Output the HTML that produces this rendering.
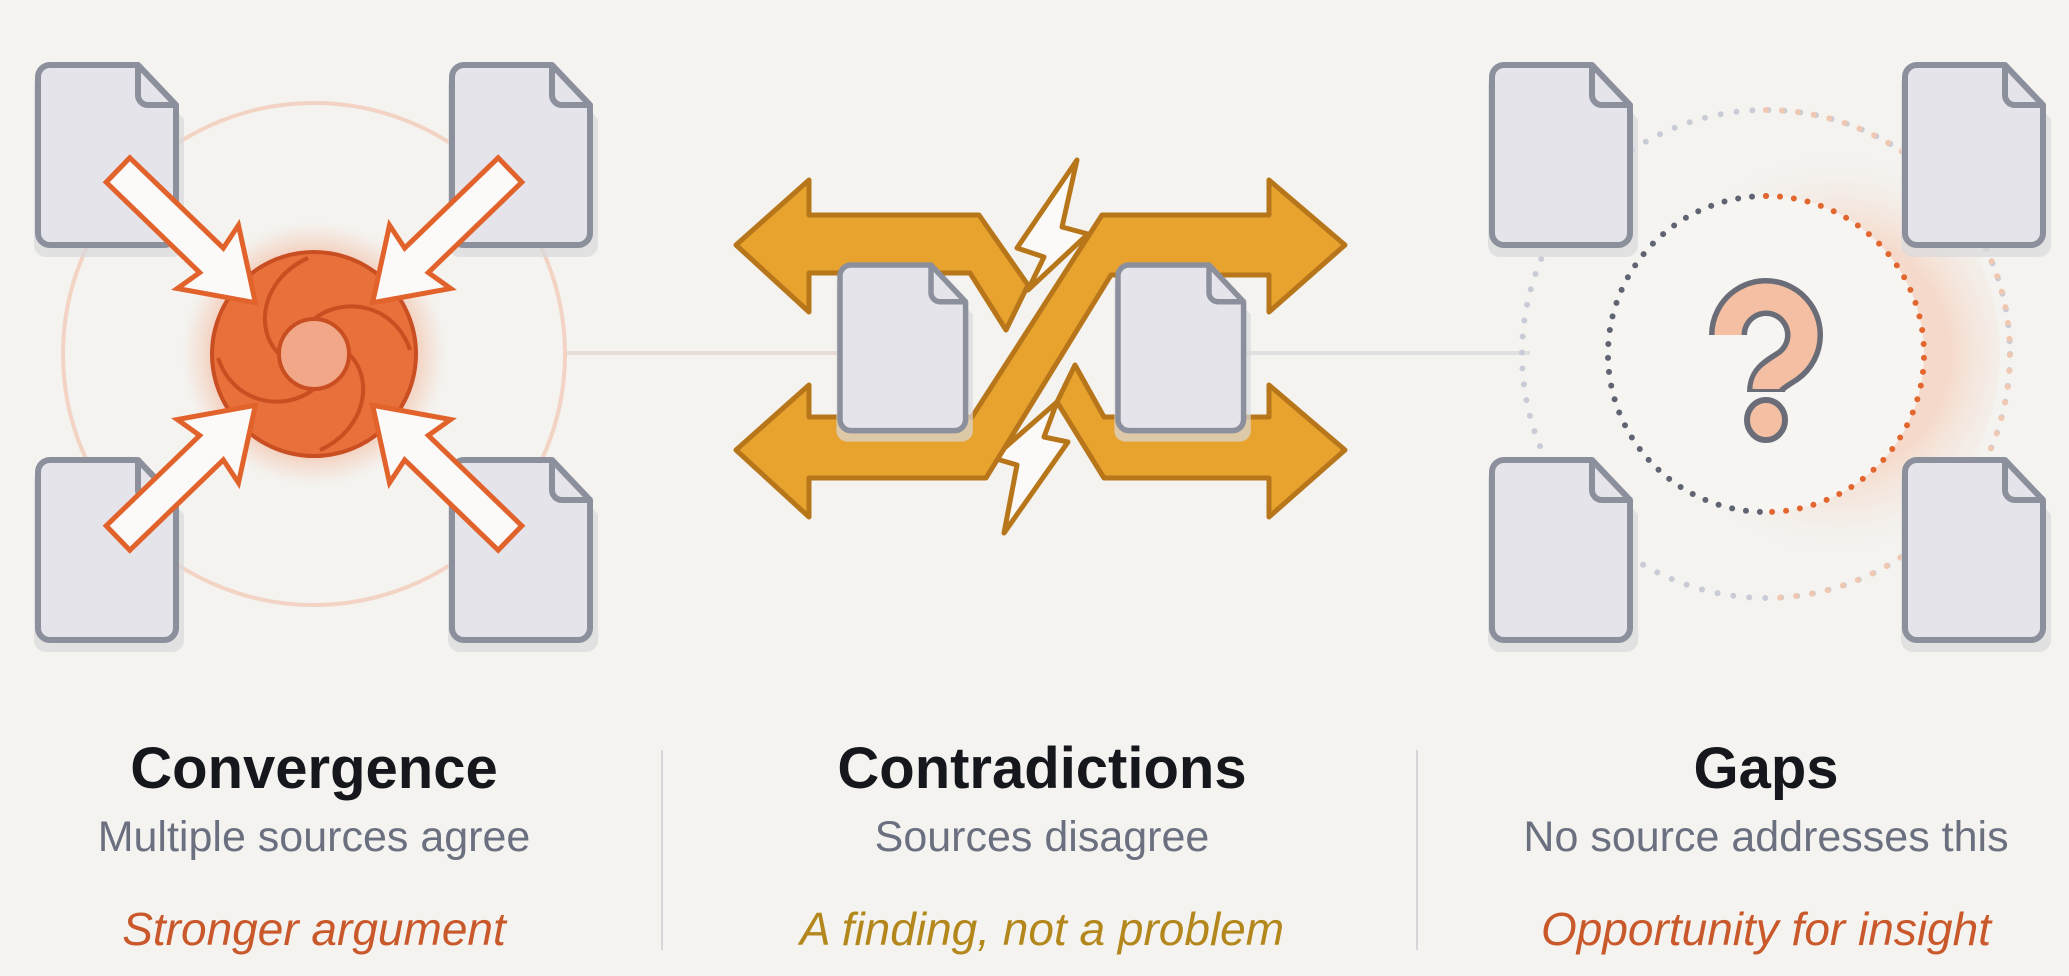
<!DOCTYPE html>
<html><head><meta charset="utf-8"><style>
html,body{margin:0;padding:0;background:#f4f3f0;}
svg{display:block}
</style></head><body>
<svg width="2069" height="976" viewBox="0 0 2069 976" xmlns="http://www.w3.org/2000/svg">
<defs>
<g id="doc">
  <path d="M8,8 h92 l46,46 v126 a12,12 0 0 1 -12,12 h-126 a12,12 0 0 1 -12,-12 v-160 a12,12 0 0 1 12,-12z" fill="#d8d8dc" opacity="0.7"/>
  <path d="M12,0 h88 l38,40 v128 a12,12 0 0 1 -12,12 h-114 a12,12 0 0 1 -12,-12 v-156 a12,12 0 0 1 12,-12z" fill="#e4e4ea" stroke="#8c8f9c" stroke-width="6" stroke-linejoin="round"/>
  <path d="M100,0 v30 a10,10 0 0 0 10,10 h28" fill="none" stroke="#8c8f9c" stroke-width="6" stroke-linejoin="round"/>
</g>
<g id="conv-arrow">
  <path d="M0,-17 L130,-17 L125,-44 L191,0 L125,44 L130,17 L0,17 Z" fill="#fbfaf8" stroke="#e2622b" stroke-width="5" stroke-linejoin="miter"/>
</g>
<radialGradient id="glow" cx="0.5" cy="0.5" r="0.5">
  <stop offset="0.6" stop-color="#ee8a5a" stop-opacity="0.7"/>
  <stop offset="1" stop-color="#f4b494" stop-opacity="0"/>
</radialGradient>
<radialGradient id="glow2" cx="0.6" cy="0.5" r="0.5">
  <stop offset="0.55" stop-color="#f6c9b2" stop-opacity="0.6"/>
  <stop offset="1" stop-color="#f4f3f0" stop-opacity="0"/>
</radialGradient>
</defs>

<line x1="564" y1="353" x2="840" y2="353" stroke="#e8ddd6" stroke-width="4"/>
<line x1="1240" y1="353" x2="1530" y2="353" stroke="#e0e0e0" stroke-width="4"/>

<!-- LEFT PANEL -->
<circle cx="314" cy="354" r="251" fill="none" stroke="#f2d3c4" stroke-width="4"/>
<use href="#doc" x="38" y="65"/>
<use href="#doc" x="452" y="65"/>
<use href="#doc" x="38" y="460"/>
<use href="#doc" x="452" y="460"/>
<circle cx="314" cy="354" r="132" fill="url(#glow)"/>
<circle cx="314" cy="354" r="102" fill="#e8703a" stroke="#c94e22" stroke-width="4"/>
<g fill="none" stroke="#c94e22" stroke-width="4">
  <path d="M314,319 C345,295 395,305 410,350"/>
  <path d="M349,354 C375,380 365,430 320,450"/>
  <path d="M314,389 C283,413 233,403 218,358"/>
  <path d="M279,354 C253,328 263,278 308,258"/>
</g>
<circle cx="314" cy="354" r="35" fill="#f2a888" stroke="#c94e22" stroke-width="4"/>
<use href="#conv-arrow" transform="translate(118,170) rotate(44)"/>
<use href="#conv-arrow" transform="translate(510,170) rotate(136)"/>
<use href="#conv-arrow" transform="translate(118,538) rotate(-44)"/>
<use href="#conv-arrow" transform="translate(510,538) rotate(-136)"/>

<!-- MIDDLE PANEL -->
<g fill="#e8a22e" stroke="#b8761a" stroke-width="5" stroke-linejoin="round">
  <polygon points="1077,160 1017,248 1044,257 1028,290 1088,234 1062,227" fill="#fbfaf8"/>
  <polygon points="1057,402 993,458 1017,465 1004,533 1068,442 1044,437" fill="#fbfaf8"/>
  <polygon points="736,245 809,180 809,215 979,215 1028,285 1006,330 970,273 809,273 809,312"/>
  <polygon points="1075,365 1104,417 1269,417 1269,385 1345,450 1269,517 1269,478 1104,478 1057,402"/>
  <polygon points="736,450 809,385 809,417 972,417 1102,215 1269,215 1269,180 1345,245 1269,312 1269,275 1111,275 986,478 809,478 809,517"/>
</g>
<use href="#doc" transform="translate(840,265) scale(0.91,0.92)"/>
<use href="#doc" transform="translate(1118,265) scale(0.91,0.92)"/>

<!-- RIGHT PANEL -->
<ellipse cx="1800" cy="354" rx="200" ry="210" fill="url(#glow2)"/>
<circle cx="1766" cy="354" r="244" fill="none" stroke="#c9ccd6" stroke-width="6" stroke-linecap="round" stroke-dasharray="0 16"/>
<path d="M1766,110 A244,244 0 0 1 1766,598" fill="none" stroke="#f0c7b0" stroke-width="6" stroke-linecap="round" stroke-dasharray="0 16"/>
<use href="#doc" x="1492" y="65"/>
<use href="#doc" x="1905" y="65"/>
<use href="#doc" x="1492" y="460"/>
<use href="#doc" x="1905" y="460"/>
<circle cx="1766" cy="354" r="158" fill="#f6f5f2"/>
<path d="M1766,196 A158,158 0 0 0 1766,512" fill="none" stroke="#5f6372" stroke-width="6" stroke-linecap="round" stroke-dasharray="0 14"/>
<path d="M1766,196 A158,158 0 0 1 1766,512" fill="none" stroke="#e2662e" stroke-width="6" stroke-linecap="round" stroke-dasharray="0 14"/>
<!-- question mark icon -->
<path d="M1728,335 A38,38 0 1 1 1788,366 C1772,376 1766,380 1766,392" fill="none" stroke="#6a6d78" stroke-width="38" stroke-linecap="butt"/>
<path d="M1728,335 A38,38 0 1 1 1788,366 C1772,376 1766,380 1766,389" fill="none" stroke="#f4bfa2" stroke-width="27" stroke-linecap="butt"/>
<ellipse cx="1766" cy="420" rx="19" ry="20" fill="#f4bfa2" stroke="#6a6d78" stroke-width="6"/>
<text x="1766" y="420" text-anchor="middle" font-family="Liberation Sans, sans-serif" font-size="10" fill="none">?</text>

<line x1="662" y1="750" x2="662" y2="950" stroke="#d6d6da" stroke-width="2"/>
<line x1="1417" y1="750" x2="1417" y2="950" stroke="#d6d6da" stroke-width="2"/>

<g font-family="Liberation Sans, sans-serif" text-anchor="middle">
  <text x="314" y="788" font-size="58" font-weight="bold" fill="#15171c">Convergence</text>
  <text x="314" y="851" font-size="43" fill="#6b7080">Multiple sources agree</text>
  <text x="314" y="945" font-size="46" font-style="italic" fill="#c9582a">Stronger argument</text>

  <text x="1042" y="788" font-size="58" font-weight="bold" fill="#15171c">Contradictions</text>
  <text x="1042" y="851" font-size="43" fill="#6b7080">Sources disagree</text>
  <text x="1042" y="945" font-size="46" font-style="italic" fill="#b3871c">A finding, not a problem</text>

  <text x="1766" y="788" font-size="58" font-weight="bold" fill="#15171c">Gaps</text>
  <text x="1766" y="851" font-size="43" fill="#6b7080">No source addresses this</text>
  <text x="1766" y="945" font-size="46" font-style="italic" fill="#c9582a">Opportunity for insight</text>
</g>
</svg>
</body></html>
